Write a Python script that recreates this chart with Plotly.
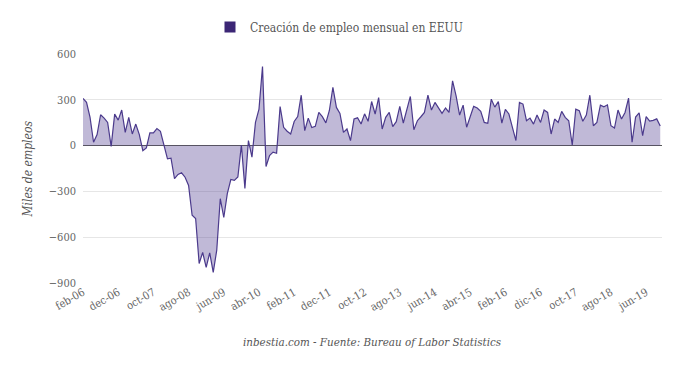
import plotly.graph_objects as go

tick_labels = ["feb-06", "dec-06", "oct-07", "ago-08", "jun-09", "abr-10", "feb-11", "dec-11",
               "oct-12", "ago-13", "jun-14", "abr-15", "feb-16", "dic-16", "oct-17", "ago-18", "jun-19"]

# Monthly payroll change (thousands), Feb 2006 - Oct 2019
empleo = [
    309, 283, 185, 22, 72, 202, 180, 152, -5, 206,
    167, 233, 87, 185, 76, 141, 72, -33, -15, 83,
    83, 111, 93, 5, -87, -83, -217, -189, -178, -207,
    -261, -456, -478, -772, -700, -798, -702, -830, -685, -348,
    -471, -315, -222, -228, -206, 4, -280, 33, -76, 152,
    239, 518, -137, -65, -43, -50, 256, 120, 94, 76,
    158, 190, 330, 98, 180, 118, 126, 218, 190, 149,
    230, 382, 250, 211, 87, 109, 33, 174, 182, 141,
    208, 159, 289, 207, 315, 109, 185, 217, 124, 157,
    257, 148, 243, 322, 104, 163, 189, 217, 330, 233,
    283, 243, 211, 246, 217, 424, 326, 200, 265, 120,
    189, 257, 246, 224, 152, 146, 304, 252, 288, 147,
    237, 207, 120, 33, 283, 272, 163, 180, 141, 200,
    152, 233, 217, 76, 174, 152, 224, 185, 163, 4,
    239, 228, 159, 200, 330, 130, 152, 265, 254, 267,
    130, 115, 233, 174, 217, 311, 22, 187, 215, 65,
    190, 161, 165, 175, 128,
]

x_idx = list(range(len(empleo)))
tick_vals = [i * 10 for i in range(len(tick_labels))]

SERIF_C = "DejaVu Serif Condensed, DejaVu Serif"

fig = go.Figure()
fig.add_trace(go.Scatter(
    x=x_idx, y=empleo, mode="lines", fill="tozeroy",
    line=dict(color="#4b3a8c", width=1.2),
    fillcolor="rgba(75,55,140,0.35)",
    showlegend=False, hoverinfo="y",
))
fig.add_trace(go.Scatter(
    x=[None], y=[None], mode="markers",
    marker=dict(symbol="square", size=11, color="#3b2675"),
    name="Creación de empleo mensual en EEUU",
))

# the page adds an 8px body margin; plot area targets are shifted accordingly
fig.update_layout(
    width=680, height=368,
    margin=dict(l=75, r=26, t=46, b=93, autoexpand=False),
    paper_bgcolor="white", plot_bgcolor="white",
    font=dict(family=SERIF_C, size=12, color="#666"),
    legend=dict(orientation="h", x=(210 - 83) / 579, xanchor="left", y=1.118, yanchor="middle",
                font=dict(family=SERIF_C, size=12, color="#555"),
                itemwidth=30),
    xaxis=dict(range=[0, 164.5], tickmode="array", tickvals=tick_vals, ticktext=tick_labels,
               tickangle=-30, showgrid=False, zeroline=False, showline=False,
               tickfont=dict(family=SERIF_C, size=11, color="#666")),
    yaxis=dict(range=[-900, 600], tickvals=[-900, -600, -300, 0, 300, 600],
               gridcolor="#e6e6e6", gridwidth=1,
               zeroline=True, zerolinecolor="#5a5a5a", zerolinewidth=1,
               tickfont=dict(family=SERIF_C, size=11, color="#666"),
               ticklabelstandoff=6),
    annotations=[
        dict(text="<i>Miles de empleos</i>", xref="paper", yref="paper",
             x=-0.095, y=0.5, xanchor="center", yanchor="middle", textangle=-90,
             showarrow=False, font=dict(family=SERIF_C, size=12, color="#555")),
        dict(text="<i>inbestia.com - Fuente: Bureau of Labor Statistics</i>",
             xref="paper", yref="paper", x=(372 - 83) / 579, y=-0.258, xanchor="center", yanchor="middle",
             showarrow=False, font=dict(family=SERIF_C, size=11.5, color="#555")),
    ],
)

fig.write_html("out.html")
